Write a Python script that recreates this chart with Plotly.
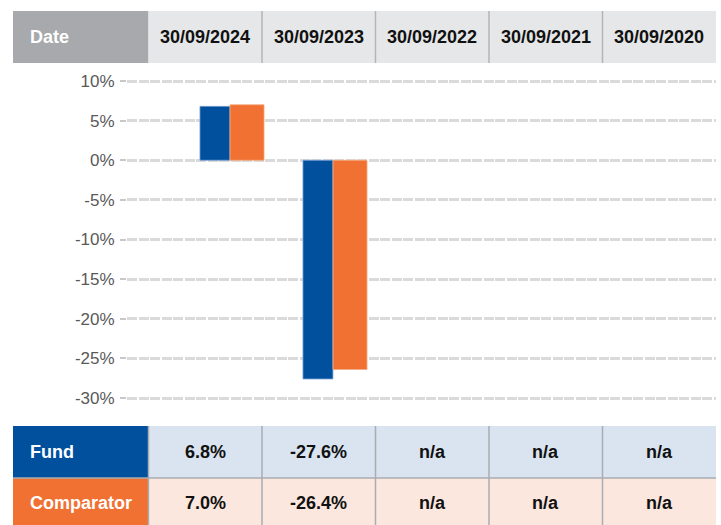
import plotly.graph_objects as go

# ---- data ----
dates = ["30/09/2024", "30/09/2023", "30/09/2022", "30/09/2021", "30/09/2020"]
fund = [6.8, -27.6, None, None, None]
comparator = [7.0, -26.4, None, None, None]
fund_labels = ["6.8%", "-27.6%", "n/a", "n/a", "n/a"]
comp_labels = ["7.0%", "-26.4%", "n/a", "n/a", "n/a"]
y_ticks = [10, 5, 0, -5, -10, -15, -20, -25, -30]
y_ticktext = ["10%", "5%", "0%", "-5%", "-10%", "-15%", "-20%", "-25%", "-30%"]

W, H = 721, 525
FONT = "Liberation Sans, Arial, sans-serif"
FUND_C = "#00509e"
COMP_C = "#f07131"


def px(x):
    return x / W


def py(y):
    return 1 - y / H


fig = go.Figure()
fig.add_trace(go.Bar(x=dates, y=fund, name="Fund", marker_color=FUND_C,
                     marker_line=dict(color="rgba(120,160,210,0.8)", width=1),
                     offset=-0.311, width=0.291, showlegend=False))
fig.add_trace(go.Bar(x=dates, y=comparator, name="Comparator", marker_color=COMP_C,
                     marker_line=dict(color="rgba(245,170,130,0.8)", width=1),
                     offset=-0.019, width=0.330, showlegend=False))

# plot area geometry (pixels)
plot_l, plot_r = 127, 716
plot_t, plot_b = 70, 412
zero_px, px_per = 160.25, 7.925
y_top = (zero_px - plot_t) / px_per
y_bot = (zero_px - plot_b) / px_per
cat0, cat_step = 232, 103
x_lo = (plot_l - cat0) / cat_step
x_hi = (plot_r - cat0) / cat_step

fig.update_layout(
    width=W, height=H,
    margin=dict(l=0, r=0, t=0, b=0),
    paper_bgcolor="white", plot_bgcolor="white",
    barmode="overlay",
    font=dict(family=FONT),
    xaxis=dict(domain=[px(plot_l), px(plot_r)], range=[x_lo, x_hi],
               showgrid=False, showticklabels=False, zeroline=False,
               showline=False, ticks=""),
    yaxis=dict(domain=[py(plot_b), py(plot_t)], range=[y_bot, y_top],
               tickvals=y_ticks, ticktext=y_ticktext,
               tickfont=dict(size=17, color="#595959", family=FONT),
               ticks="outside", ticklen=6, tickwidth=1.5, tickcolor="#c8c8c8",
               ticklabelstandoff=2,
               showgrid=True, gridcolor="#dadada", gridwidth=3, griddash="10px,1.5px",
               zeroline=False, showline=False),
)

shapes = []
ann = []

# column edges
label_l = 13
edges = [148.5 + 113.5 * i for i in range(6)]

# header row
hdr_t, hdr_b = 11, 63
shapes.append(dict(type="rect", xref="paper", yref="paper", x0=px(label_l), x1=px(edges[0]),
                   y0=py(hdr_b), y1=py(hdr_t), fillcolor="#a7a9ac", line_width=0, layer="below"))
shapes.append(dict(type="rect", xref="paper", yref="paper", x0=px(edges[0]), x1=px(edges[-1]),
                   y0=py(hdr_b), y1=py(hdr_t), fillcolor="#e6e7e8", line_width=0, layer="below"))
ann.append(dict(xref="paper", yref="paper", x=px(28), y=py((hdr_t + hdr_b) / 2),
                text="<b>Date</b>", showarrow=False, xanchor="left", yanchor="middle",
                font=dict(size=18, color="white", family=FONT)))
for i, d in enumerate(dates):
    cx = (edges[i] + edges[i + 1]) / 2
    ann.append(dict(xref="paper", yref="paper", x=px(cx), y=py((hdr_t + hdr_b) / 2),
                    text="<b>" + d + "</b>", showarrow=False, xanchor="center", yanchor="middle",
                    font=dict(size=18, color="#111111", family=FONT)))
for e in edges[1:-1]:
    shapes.append(dict(type="line", xref="paper", yref="paper", x0=px(e), x1=px(e),
                       y0=py(hdr_b), y1=py(hdr_t), line=dict(color="#b4b4b4", width=1.5)))

# bottom table
rows = [
    ("Fund", FUND_C, "#d9e4f0", fund_labels, 426, 478),
    ("Comparator", COMP_C, "#fbe7de", comp_labels, 478, 526),
]
for name, dark, light, labels, t, b in rows:
    shapes.append(dict(type="rect", xref="paper", yref="paper", x0=px(label_l), x1=px(edges[0]),
                       y0=py(b), y1=py(t), fillcolor=dark, line_width=0, layer="below"))
    shapes.append(dict(type="rect", xref="paper", yref="paper", x0=px(edges[0]), x1=px(edges[-1]),
                       y0=py(b), y1=py(t), fillcolor=light, line_width=0, layer="below"))
    cy = (t + min(b, 525)) / 2 + (1 if b > 500 else 0)
    ann.append(dict(xref="paper", yref="paper", x=px(28), y=py(cy),
                    text="<b>" + name + "</b>", showarrow=False, xanchor="left", yanchor="middle",
                    font=dict(size=18, color="white", family=FONT)))
    for i, lab in enumerate(labels):
        cx = (edges[i] + edges[i + 1]) / 2
        ann.append(dict(xref="paper", yref="paper", x=px(cx), y=py(cy),
                        text="<b>" + lab + "</b>", showarrow=False, xanchor="center", yanchor="middle",
                        font=dict(size=18, color="#111111", family=FONT)))

# table grid lines
for e in edges[:-1]:
    shapes.append(dict(type="line", xref="paper", yref="paper", x0=px(e), x1=px(e),
                       y0=py(525), y1=py(426),
                       line=dict(color="#a9adb2", width=1.5)))
shapes.append(dict(type="line", xref="paper", yref="paper", x0=px(label_l), x1=px(edges[-1]),
                   y0=py(478), y1=py(478), line=dict(color="#a9adb2", width=1.5)))

fig.update_layout(shapes=shapes, annotations=ann)
fig.write_html("out.html", post_script="document.body.style.margin='0';",
               config={"displayModeBar": False})
